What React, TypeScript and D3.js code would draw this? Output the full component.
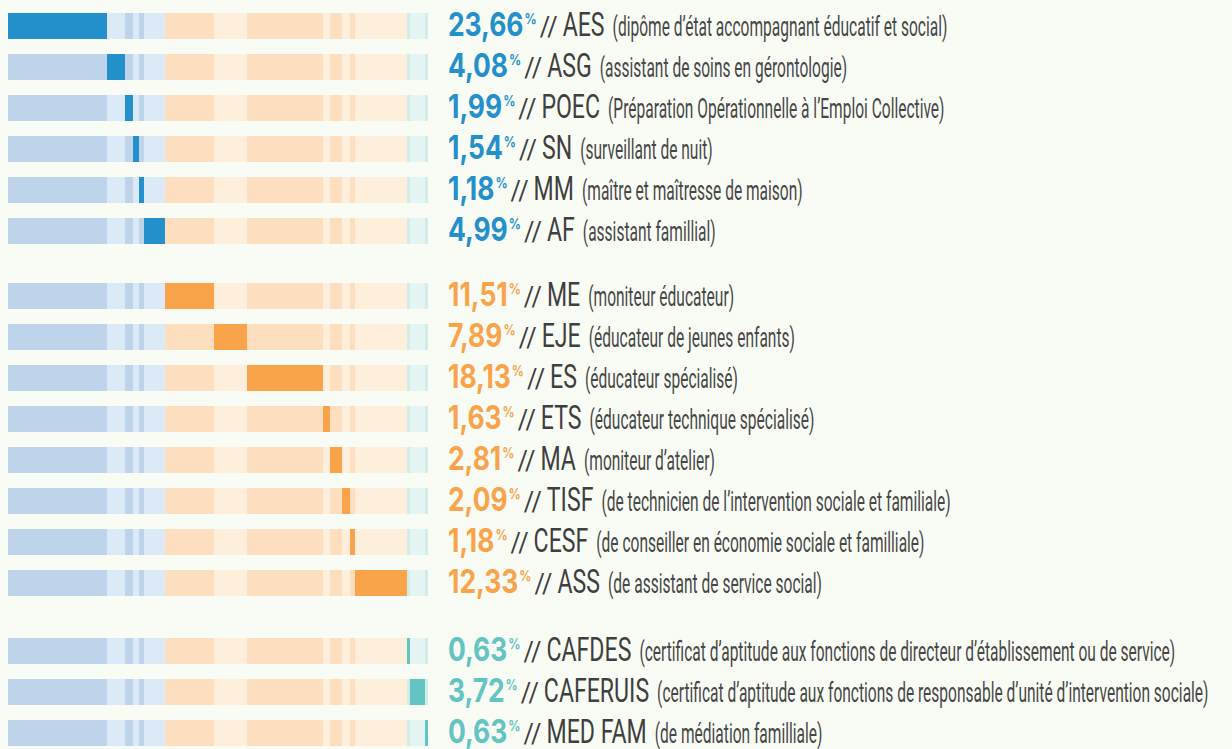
import React, { useEffect, useRef } from 'react';
import * as d3 from 'd3';

const codes = ['AES', 'ASG', 'POEC', 'SN', 'MM', 'AF', 'ME', 'EJE', 'ES', 'ETS', 'MA', 'TISF', 'CESF', 'ASS', 'CAFDES', 'CAFERUIS', 'MED FAM'];
const values = [23.66, 4.08, 1.99, 1.54, 1.18, 4.99, 11.51, 7.89, 18.13, 1.63, 2.81, 2.09, 1.18, 12.33, 0.63, 3.72, 0.63];
const groupOf = [0, 0, 0, 0, 0, 0, 1, 1, 1, 1, 1, 1, 1, 1, 2, 2, 2];
const descriptions = [
  '(dipôme d’état accompagnant éducatif et social)',
  '(assistant de soins en gérontologie)',
  '(Préparation Opérationnelle à l’Emploi Collective)',
  '(surveillant de nuit)',
  '(maître et maîtresse de maison)',
  '(assistant famillial)',
  '(moniteur éducateur)',
  '(éducateur de jeunes enfants)',
  '(éducateur spécialisé)',
  '(éducateur technique spécialisé)',
  '(moniteur d’atelier)',
  '(de technicien de l’intervention sociale et familiale)',
  '(de conseiller en économie sociale et familliale)',
  '(de assistant de service social)',
  '(certificat d’aptitude aux fonctions de directeur d’établissement ou de service)',
  '(certificat d’aptitude aux fonctions de responsable d’unité d’intervention sociale)',
  '(de médiation familliale)',
];

const darkColors = ['#2490cb', '#f9a34a', '#62c4c3'];
const lightA = ['#bdd4eb', '#fddfc0', '#d3ece8'];
const lightB = ['#dce9f7', '#feefdd', '#e5f5f3'];
const BG = '#f9fcf5';
const TEXT = '#3f3f3f';
const DESC = '#474747';

export default function App() {
  const ref = useRef<SVGSVGElement>(null);

  useEffect(() => {
    document.body.style.margin = '0';
    document.body.style.background = BG;
    const svg = d3.select(ref.current);
    svg.selectAll('*').remove();

    svg.append('rect').attr('width', 1232).attr('height', 749).attr('fill', BG);

    const total = d3.sum(values);
    const x = d3.scaleLinear().domain([0, total]).range([8, 428]);
    const cum: number[] = [];
    values.reduce((acc, v, i) => { cum[i] = acc; return acc + v; }, 0);
    const idxInGroup = values.map((_, i) => i - groupOf.indexOf(groupOf[i]));

    const step = 41;
    const gaps = [0, 24, 51];
    const barH = 26;
    const rowTop = (i: number) => 13 + i * step + gaps[groupOf[i]];

    const fmt = (v: number) => v.toFixed(2).replace('.', ',');

    codes.forEach((code, r) => {
      const top = rowTop(r);
      const g = svg.append('g');
      g.selectAll('rect')
        .data(values)
        .join('rect')
        .attr('x', (_, j) => x(cum[j]))
        .attr('y', top)
        .attr('width', (v, j) => x(cum[j] + v) - x(cum[j]))
        .attr('height', barH)
        .attr('shape-rendering', 'crispEdges')
        .attr('fill', (_, j) =>
          j === r ? darkColors[groupOf[j]] : idxInGroup[j] % 2 === 0 ? lightA[groupOf[j]] : lightB[groupOf[j]]
        );

      const base = top + 23;
      const tg = g.append('g').attr('transform', `translate(448,${base})`);
      let cx = 0;
      const piece = (
        txt: string, opts: { size: number; weight?: number; fill: string; sx: number; dy?: number; family?: string; gap?: number }
      ) => {
        const t = tg.append('text')
          .text(txt)
          .attr('font-family', opts.family || 'Roboto')
          .attr('font-size', opts.size)
          .attr('font-weight', opts.weight || 400)
          .attr('fill', opts.fill)
          .style('font-variant-numeric', 'proportional-nums')
          .attr('transform', `translate(${cx},${opts.dy || 0}) scale(${opts.sx},1)`);
        const w = (t.node() as SVGTextElement).getComputedTextLength() * opts.sx;
        cx += w + (opts.gap || 0);
      };
      const col = darkColors[groupOf[r]];
      piece(fmt(values[r]), { size: 33, weight: 700, fill: col, sx: 0.8, family: 'Inter', gap: 1 });
      piece('%', { size: 15, weight: 700, fill: col, sx: 0.8, dy: -12, family: 'Inter', gap: 3 });
      piece('//', { size: 28, fill: TEXT, sx: 0.9, gap: 5 });
      piece(code, { size: 34, fill: TEXT, sx: 0.68, gap: 8 });
      piece(descriptions[r], { size: 27.5, fill: DESC, sx: 0.565 });
    });
  }, []);

  return <svg ref={ref} width={1232} height={749} style={{ display: 'block' }} />;
}
